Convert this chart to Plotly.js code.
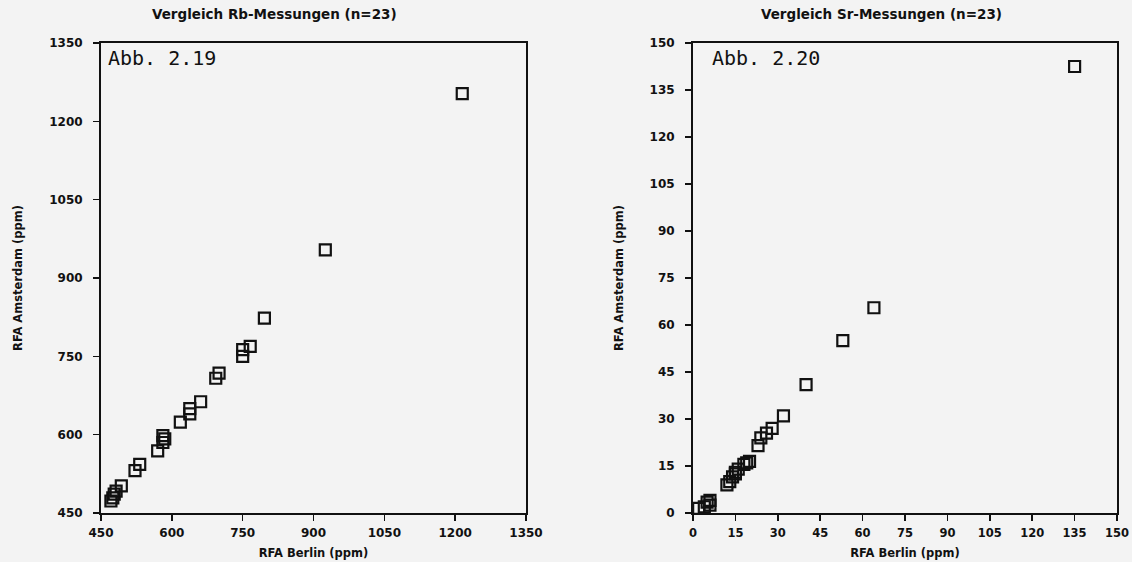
<!DOCTYPE html>
<html>
<head>
<meta charset="utf-8">
<script src="https://cdn.plot.ly/plotly-3.0.1.min.js"></script>
<style>
  html, body { margin: 0; padding: 0; background: #f3f3f3; }
  #chart { width: 1132px; height: 562px; }
</style>
</head>
<body>
<div id="chart"></div>
<script>
// Rb: Berlin vs Amsterdam XRF measurements (ppm)
const rbBerlin    = [1215, 925, 796, 766, 750, 750, 700, 693, 661, 638, 638, 618, 585, 581, 581, 570, 532, 522, 493, 482, 478, 475, 471];
const rbAmsterdam = [1253, 954, 823, 769, 763, 750, 718, 708, 663, 650, 640, 624, 592, 598, 585, 569, 543, 531, 502, 492, 486, 479, 473];

// Sr: Berlin vs Amsterdam XRF measurements (ppm)
const srBerlin    = [135, 64, 53, 40, 32, 28, 26, 24, 23, 20, 19, 18, 16, 15, 15, 14, 13, 12, 6, 6, 5, 4, 2];
const srAmsterdam = [142.5, 65.5, 55, 41, 31, 27, 25.5, 24, 21.5, 16.5, 16, 15.5, 14, 13, 12.5, 11.5, 10, 9, 4, 2.5, 3.5, 2, 1.5];

const rbTicks = [450, 600, 750, 900, 1050, 1200, 1350];
const srTicks = [0, 15, 30, 45, 60, 75, 90, 105, 120, 135, 150];

const titles = {
  rb: 'Vergleich Rb-Messungen (n=23)',
  sr: 'Vergleich Sr-Messungen (n=23)',
  x: 'RFA Berlin (ppm)',
  y: 'RFA Amsterdam (ppm)',
  rbFig: 'Abb. 2.19',
  srFig: 'Abb. 2.20'
};

const W = 1132, H = 562;
const fx = px => px / W;
const fy = py => 1 - py / H;

const tickFont  = { family: 'DejaVu Sans, sans-serif', size: 12, color: '#111', weight: 'bold' };
const labelFont = { family: 'DejaVu Sans, sans-serif', size: 11.5, color: '#111', weight: 'bold' };
const headFont  = { family: 'DejaVu Sans, sans-serif', size: 13.5, color: '#111', weight: 'bold' };
const figFont   = { family: 'DejaVu Sans Mono, monospace', size: 20, color: '#111' };

const marker = { symbol: 'square-open', size: 11, color: '#111', line: { width: 2.2, color: '#111' } };

const traces = [
  { x: rbBerlin, y: rbAmsterdam, type: 'scatter', mode: 'markers', marker: marker, xaxis: 'x', yaxis: 'y', hoverinfo: 'x+y' },
  { x: srBerlin, y: srAmsterdam, type: 'scatter', mode: 'markers', marker: marker, xaxis: 'x2', yaxis: 'y2', hoverinfo: 'x+y' }
];

function axis(range, ticks, domain, anchor, titleText, standoff, labelGap, fontSize) {
  return {
    domain: domain,
    range: range,
    anchor: anchor,
    tickmode: 'array',
    tickvals: ticks,
    ticktext: ticks.map(String),
    ticks: 'outside',
    ticklen: 6,
    tickwidth: 1.5,
    tickcolor: '#111',
    ticklabelstandoff: labelGap,
    ticklabeloverflow: 'allow',
    showline: true,
    linecolor: '#111',
    linewidth: 2,
    mirror: true,
    showgrid: false,
    zeroline: false,
    tickfont: Object.assign({}, tickFont, { size: fontSize }),
    title: { text: titleText, font: labelFont, standoff: standoff },
    automargin: false
  };
}

const layout = {
  width: W,
  height: H,
  margin: { l: 0, r: 0, t: 0, b: 0 },
  paper_bgcolor: '#f3f3f3',
  plot_bgcolor: '#f3f3f3',
  showlegend: false,
  xaxis:  axis([450, 1350], rbTicks, [fx(101), fx(526)],  'y',  titles.x, 10, 2, 12),
  yaxis:  axis([450, 1350], rbTicks, [fy(513), fy(43)],   'x',  titles.y, 24, 8, 12),
  xaxis2: axis([0, 150],    srTicks, [fx(693), fx(1117)], 'y2', titles.x, 10, 2, 11.5),
  yaxis2: axis([0, 150],    srTicks, [fy(513), fy(43)],   'x2', titles.y, 24, 8, 12),
  annotations: [
    { text: titles.rb, xref: 'paper', yref: 'paper', x: fx(274), y: fy(14), xanchor: 'center', yanchor: 'middle', showarrow: false, font: headFont },
    { text: titles.sr, xref: 'paper', yref: 'paper', x: fx(881), y: fy(14), xanchor: 'center', yanchor: 'middle', showarrow: false, font: headFont },
    { text: titles.rbFig, xref: 'paper', yref: 'paper', x: fx(106), y: fy(58), xanchor: 'left', yanchor: 'middle', showarrow: false, font: figFont },
    { text: titles.srFig, xref: 'paper', yref: 'paper', x: fx(710), y: fy(58), xanchor: 'left', yanchor: 'middle', showarrow: false, font: figFont }
  ]
};

Plotly.newPlot('chart', traces, layout, { displayModeBar: false, staticPlot: true });
</script>
</body>
</html>
